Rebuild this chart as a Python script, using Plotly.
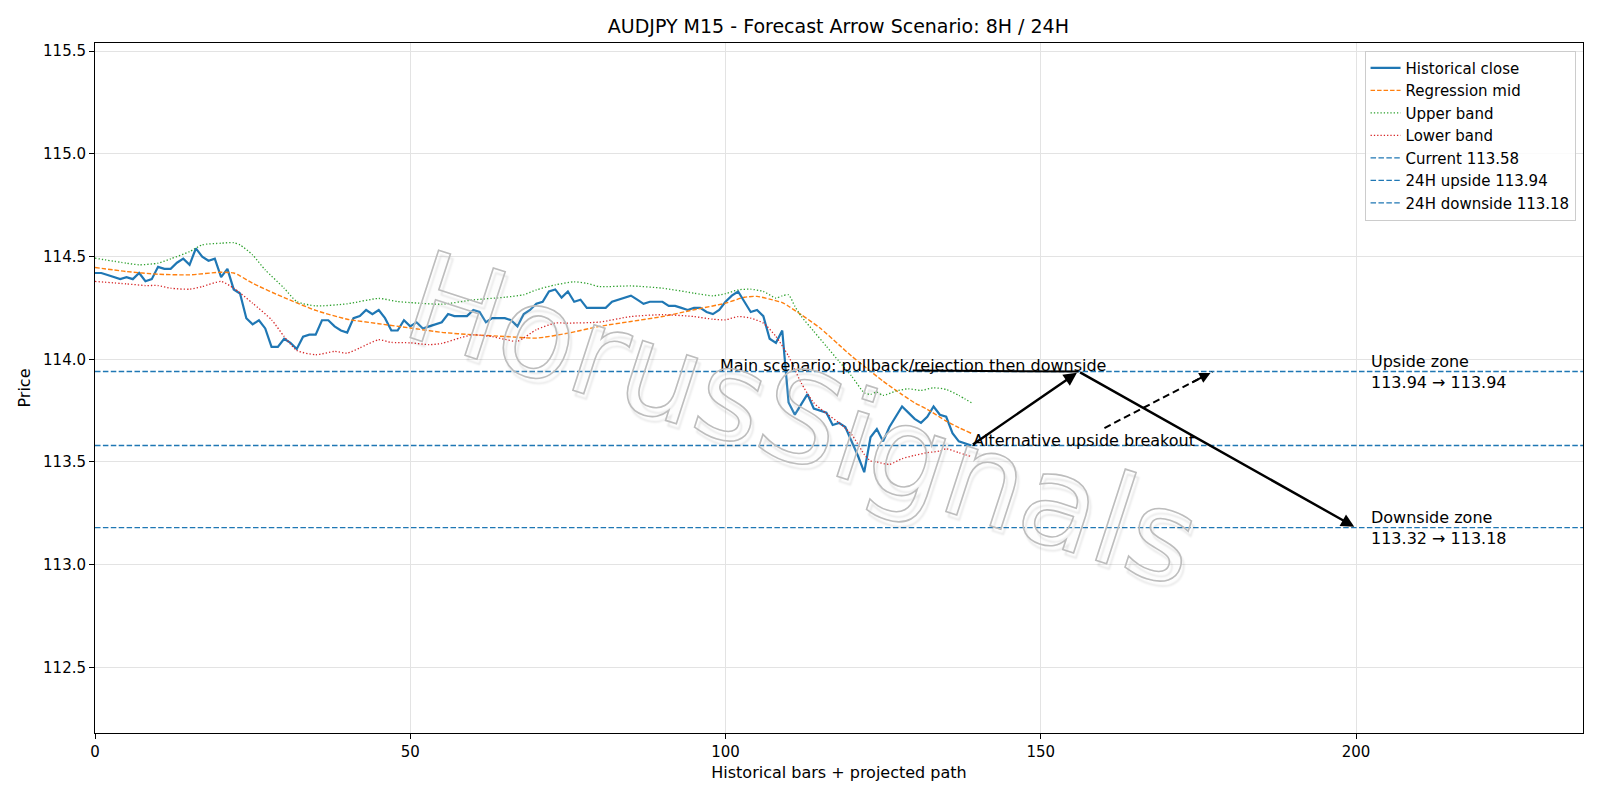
import plotly.graph_objects as go

# ---------------- data ----------------
CLOSE = [
    114.42, 114.42, 114.41, 114.40, 114.39, 114.40, 114.39, 114.42, 114.38, 114.39,
    114.45, 114.44, 114.44, 114.47, 114.49, 114.46, 114.54, 114.50, 114.48, 114.49,
    114.40, 114.44, 114.34, 114.32, 114.20, 114.17, 114.19, 114.15, 114.06, 114.06,
    114.10, 114.08, 114.05, 114.11, 114.12, 114.12, 114.19, 114.19, 114.16, 114.14,
    114.13, 114.20, 114.21, 114.24, 114.22, 114.24, 114.20, 114.14, 114.14, 114.19,
    114.16, 114.18, 114.15, 114.16, 114.17, 114.18, 114.22, 114.21, 114.21, 114.21,
    114.24, 114.23, 114.18, 114.20, 114.20, 114.20, 114.19, 114.16, 114.22, 114.24,
    114.27, 114.28, 114.33, 114.34, 114.30, 114.33, 114.28, 114.29, 114.25, 114.25,
    114.25, 114.25, 114.28, 114.29, 114.30, 114.31, 114.29, 114.27, 114.28, 114.28,
    114.28, 114.26, 114.26, 114.25, 114.24, 114.25, 114.25, 114.23, 114.22, 114.24,
    114.28, 114.31, 114.33, 114.28, 114.23, 114.24, 114.21, 114.10, 114.08, 114.14,
    113.79, 113.73, 113.78, 113.83, 113.76, 113.75, 113.74, 113.68, 113.69, 113.67,
    113.60, 113.53, 113.45, 113.62, 113.66, 113.60, 113.67, 113.72, 113.77, 113.74,
    113.71, 113.69, 113.72, 113.77, 113.73, 113.72, 113.64, 113.60, 113.59, 113.58,
]

MID_X = [0, 5, 10, 15, 20, 22, 23, 25, 30, 35, 40, 45, 50, 55, 60, 65, 70, 75, 80, 85, 90,
         95, 100, 103, 105, 107, 109, 110, 112, 115, 118, 120, 122, 125, 128, 130, 132,
         135, 137, 139]
MID_Y = [114.447, 114.427, 114.414, 114.411, 114.424, 114.42, 114.406, 114.37, 114.30,
         114.238, 114.195, 114.173, 114.152, 114.131, 114.119, 114.111, 114.103, 114.127,
         114.16, 114.184, 114.208, 114.241, 114.273, 114.302, 114.306, 114.293, 114.276,
         114.258, 114.217, 114.152, 114.07, 114.015, 113.966, 113.893, 113.828, 113.788,
         113.756, 113.699, 113.667, 113.639]

UP_X = [0, 5, 7, 10, 12, 15, 17, 20, 22, 23, 25, 27, 30, 32, 35, 40, 45, 48, 50, 55, 60,
        65, 68, 70, 73, 76, 78, 80, 85, 90, 95, 98, 100, 102, 104, 106, 108, 109, 110,
        111, 112, 114, 116, 118, 120, 122, 123, 124, 125, 127, 129, 131, 133, 135, 137,
        139]
UP_Y = [114.492, 114.468, 114.46, 114.468, 114.489, 114.524, 114.557, 114.565, 114.568,
        114.557, 114.508, 114.435, 114.346, 114.281, 114.26, 114.27, 114.296, 114.281,
        114.276, 114.268, 114.289, 114.302, 114.314, 114.338, 114.362, 114.377, 114.37,
        114.354, 114.357, 114.346, 114.322, 114.309, 114.319, 114.338, 114.341, 114.33,
        114.298, 114.309, 114.314, 114.258, 114.21, 114.136, 114.063, 113.99, 113.918,
        113.837, 113.829, 113.84, 113.824, 113.845, 113.856, 113.848, 113.861, 113.853,
        113.824, 113.788]

LO_X = [0, 5, 8, 10, 12, 15, 17, 20, 22, 25, 28, 30, 32, 35, 38, 40, 42, 45, 47, 50, 53,
        55, 58, 60, 63, 65, 67, 70, 73, 75, 80, 85, 90, 95, 98, 100, 102, 104, 106, 108,
        110, 111, 112, 114, 116, 118, 120, 122, 123, 124, 126, 128, 130, 132, 134, 135,
        137, 139]
LO_Y = [114.379, 114.367, 114.359, 114.359, 114.346, 114.341, 114.354, 114.379, 114.346,
        114.273, 114.192, 114.111, 114.043, 114.022, 114.038, 114.03, 114.055, 114.095,
        114.082, 114.08, 114.071, 114.077, 114.105, 114.119, 114.11, 114.097, 114.087,
        114.144, 114.176, 114.176, 114.181, 114.208, 114.217, 114.208, 114.195, 114.192,
        114.208, 114.2, 114.176, 114.111, 114.015, 113.95, 113.885, 113.788, 113.736,
        113.691, 113.634, 113.537, 113.505, 113.5, 113.488, 113.516, 113.532, 113.545,
        113.553, 113.564, 113.545, 113.526]

LEVEL_NAMES = ["Current 113.58", "24H upside 113.94", "24H downside 113.18"]
LEVEL_VALUES = [113.58, 113.94, 113.18]

# main scenario path: current -> pullback pivot -> downside target
MAIN_PATH_X = [139, 156, 200]
MAIN_PATH_Y = [113.58, 113.94, 113.18]
MAIN_LABEL_XY = [129.7, 113.945]
ALT_START = [160.1, 113.665]
ALT_END = [177.2, 113.938]
ALT_LABEL_XY = [139, 113.58]
ZONE_LABEL_X = 202
UP_ZONE = [113.94, 113.94]
DOWN_ZONE = [113.32, 113.18]

X_RANGE = [0, 236]
Y_RANGE = [112.18, 115.54]

BLUE, ORANGE, GREEN, RED = "#1f77b4", "#ff7f0e", "#2ca02c", "#d62728"
FONT = "DejaVu Sans"
TXT = 16

fig = go.Figure()
fig.add_trace(go.Scatter(x=list(range(len(CLOSE))), y=CLOSE, mode="lines",
                         name="Historical close", line=dict(color=BLUE, width=2.2)))
fig.add_trace(go.Scatter(x=MID_X, y=MID_Y, mode="lines", name="Regression mid",
                         line=dict(color=ORANGE, width=1.4, dash="4.5px,2px", shape="spline", smoothing=0.6)))
fig.add_trace(go.Scatter(x=UP_X, y=UP_Y, mode="lines", name="Upper band",
                         line=dict(color=GREEN, width=1.3, dash="1.3px,2px", shape="spline", smoothing=0.6)))
fig.add_trace(go.Scatter(x=LO_X, y=LO_Y, mode="lines", name="Lower band",
                         line=dict(color=RED, width=1.3, dash="1.3px,2px", shape="spline", smoothing=0.6)))
for nm, val in zip(LEVEL_NAMES, LEVEL_VALUES):
    fig.add_trace(go.Scatter(x=X_RANGE, y=[val, val], mode="lines", name=nm,
                             line=dict(color=BLUE, width=1.4, dash="5.5px,2.4px")))

annotations = []
shapes = []
# main scenario arrows
for i in range(len(MAIN_PATH_X) - 1):
    annotations.append(dict(x=MAIN_PATH_X[i + 1], y=MAIN_PATH_Y[i + 1],
                            ax=MAIN_PATH_X[i], ay=MAIN_PATH_Y[i],
                            xref="x", yref="y", axref="x", ayref="y", text="",
                            showarrow=True, arrowhead=2, arrowsize=1.1, arrowwidth=2.4,
                            arrowcolor="black", standoff=2))
# main scenario label and its leader line
annotations.append(dict(x=MAIN_LABEL_XY[0], y=MAIN_LABEL_XY[1], xref="x", yref="y",
                        text="Main scenario: pullback/rejection then downside",
                        showarrow=False, xanchor="center", yanchor="bottom", yshift=-6,
                        font=dict(family=FONT, size=TXT, color="black")))
shapes.append(dict(type="line", xref="x", yref="y", x0=MAIN_LABEL_XY[0], y0=MAIN_LABEL_XY[1],
                   x1=MAIN_PATH_X[1], y1=MAIN_PATH_Y[1], line=dict(color="black", width=2)))
# alternative dashed arrow
shapes.append(dict(type="line", xref="x", yref="y", x0=ALT_START[0], y0=ALT_START[1],
                   x1=ALT_END[0], y1=ALT_END[1], line=dict(color="black", width=2, dash="7px,4px")))
frac = 0.8
annotations.append(dict(x=ALT_END[0], y=ALT_END[1],
                        ax=ALT_START[0] + frac * (ALT_END[0] - ALT_START[0]),
                        ay=ALT_START[1] + frac * (ALT_END[1] - ALT_START[1]),
                        xref="x", yref="y", axref="x", ayref="y", text="",
                        showarrow=True, arrowhead=2, arrowsize=1.1, arrowwidth=2,
                        arrowcolor="black", standoff=2))
annotations.append(dict(x=ALT_LABEL_XY[0], y=ALT_LABEL_XY[1], xref="x", yref="y",
                        text="Alternative upside breakout", showarrow=False,
                        xanchor="left", yanchor="bottom", yshift=-6,
                        font=dict(family=FONT, size=TXT, color="black")))
# zone labels
annotations.append(dict(x=ZONE_LABEL_X, y=UP_ZONE[1], xref="x", yref="y",
                        text=f"Upside zone<br>{UP_ZONE[0]:.2f} → {UP_ZONE[1]:.2f}",
                        showarrow=False, xanchor="left", yanchor="middle", align="left",
                        font=dict(family=FONT, size=TXT, color="black")))
annotations.append(dict(x=ZONE_LABEL_X, y=DOWN_ZONE[1], xref="x", yref="y",
                        text=f"Downside zone<br>{DOWN_ZONE[0]:.2f} → {DOWN_ZONE[1]:.2f}",
                        showarrow=False, xanchor="left", yanchor="middle", align="left",
                        font=dict(family=FONT, size=TXT, color="black")))
# watermark
annotations.append(dict(x=0.476, y=0.455, xref="paper", yref="paper", text="HorusSignals",
                        showarrow=False, textangle=18, xanchor="center", yanchor="middle",
                        font=dict(family=FONT, size=126, color="rgba(255,255,255,0.3)",
                                  shadow="4px 4px 2px rgba(0,0,0,0.10)")))

axis_common = dict(showline=True, linecolor="black", linewidth=1, mirror=True,
                   ticks="outside", ticklen=5, tickcolor="black", showgrid=True,
                   gridcolor="#e3e3e3", gridwidth=1, zeroline=False,
                   tickfont=dict(family=FONT, size=15, color="black"))

fig.update_layout(
    width=1600, height=800,
    paper_bgcolor="white", plot_bgcolor="white",
    margin=dict(l=95, r=17, t=43, b=67),
    title=dict(text="AUDJPY M15 - Forecast Arrow Scenario: 8H / 24H", x=0.524, xanchor="center",
               y=1 - 26 / 800, yanchor="middle", yref="container",
               font=dict(family=FONT, size=19, color="black")),
    xaxis=dict(range=X_RANGE, tick0=0, dtick=50,
               title=dict(text="Historical bars + projected path", standoff=6,
                          font=dict(family=FONT, size=TXT, color="black")), **axis_common),
    yaxis=dict(range=Y_RANGE, tick0=112.5, dtick=0.5, tickformat=".1f",
               title=dict(text="Price", standoff=8,
                          font=dict(family=FONT, size=TXT, color="black")), **axis_common),
    legend=dict(x=0.995, y=0.989, xanchor="right", yanchor="top", bgcolor="rgba(255,255,255,0.85)",
                bordercolor="#cccccc", borderwidth=1, itemwidth=30,
                font=dict(family=FONT, size=15, color="black")),
    annotations=annotations, shapes=shapes,
    font=dict(family=FONT),
)

post_js = """
var gd = document.getElementById('{plot_id}');
function wm(){
  gd.querySelectorAll('text.annotation-text').forEach(function(t){
    if (t.textContent === 'HorusSignals') {
      t.style.stroke = '#bdbdbd';
      t.style.strokeWidth = '1.6px';
      t.style.fill = 'rgba(255,255,255,0.3)';
    }
  });
}
wm();
if (gd.on) { gd.on('plotly_afterplot', wm); }
"""

fig.write_html("out.html", post_script=post_js)
